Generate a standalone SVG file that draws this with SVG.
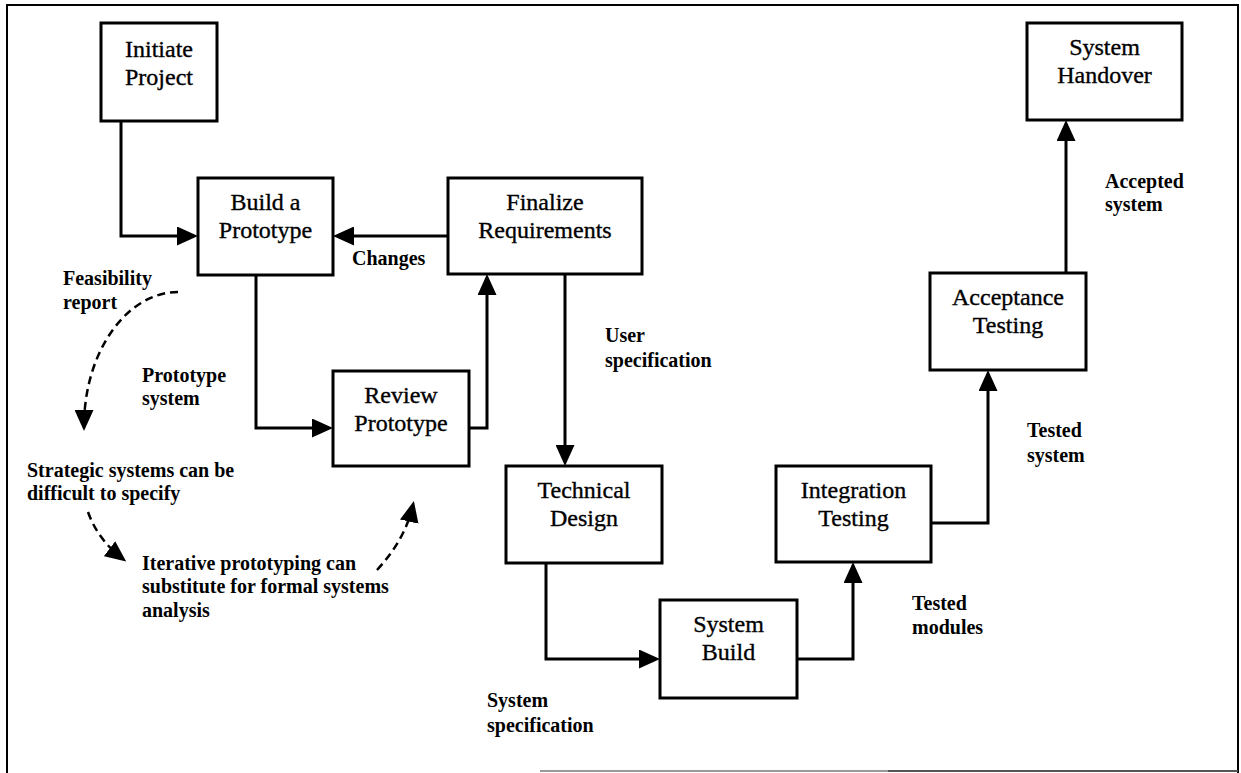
<svg xmlns="http://www.w3.org/2000/svg" width="1241" height="773" viewBox="0 0 1241 773">
  <style>
    .box { fill: #fff; stroke: #000; stroke-width: 3; }
    .node { font-family: "Liberation Serif", "Times New Roman", serif; font-size: 24px; fill: #000; stroke: #000; stroke-width: 0.35; text-anchor: middle; }
    .lbl { font-family: "Liberation Serif", "Times New Roman", serif; font-size: 20px; font-weight: bold; fill: #000; }
    .flow { fill: none; stroke: #000; stroke-width: 3; marker-end: url(#arrow); }
    .dash { fill: none; stroke: #000; stroke-width: 2.5; stroke-dasharray: 8 5; marker-end: url(#arrow); }
    .frame { fill: none; stroke: #000; stroke-width: 2; }
  </style>
  <defs>
    <marker id="arrow" markerUnits="userSpaceOnUse" markerWidth="21" markerHeight="19" refX="17" refY="9.5" orient="auto">
      <path d="M0,0 L21,9.5 L0,19 Z" fill="#000"/>
    </marker>
  </defs>

  <rect width="1241" height="773" fill="#fff"/>

  <!-- outer frame -->
  <path class="frame" d="M7,773 V5 H1238 V773"/>
  <path d="M540,771 H888" stroke="#999" stroke-width="2"/>
  <path d="M888,771 H1238" stroke="#555" stroke-width="2"/>

  <!-- connectors -->
  <g id="connectors">
    <path class="flow" d="M121,121 V236 H194"/>
    <path class="flow" d="M448,236 H337"/>
    <path class="flow" d="M256,275 V428 H329"/>
    <path class="flow" d="M469,428 H487 V278"/>
    <path class="flow" d="M565,274 V462"/>
    <path class="flow" d="M546,563 V659 H656"/>
    <path class="flow" d="M797,659 H853 V566"/>
    <path class="flow" d="M931,523 H988 V374"/>
    <path class="flow" d="M1066,273 V124"/>
    <path class="dash" d="M178,292 C128,292 84,350 84,427"/>
    <path class="dash" d="M88,512 Q98,540 123,559"/>
    <path class="dash" d="M377,570 Q405,540 413,505"/>
  </g>

  <!-- nodes -->
  <g id="initiate-project">
    <rect class="box" x="101" y="23" width="116" height="98"/>
    <text class="node" x="159" y="57">Initiate</text>
    <text class="node" x="159" y="85">Project</text>
  </g>
  <g id="build-prototype">
    <rect class="box" x="198" y="178" width="135" height="97"/>
    <text class="node" x="265.5" y="210">Build a</text>
    <text class="node" x="265.5" y="238">Prototype</text>
  </g>
  <g id="finalize-requirements">
    <rect class="box" x="448" y="178" width="194" height="96"/>
    <text class="node" x="545" y="210">Finalize</text>
    <text class="node" x="545" y="238">Requirements</text>
  </g>
  <g id="review-prototype">
    <rect class="box" x="333" y="371" width="136" height="95"/>
    <text class="node" x="401" y="403">Review</text>
    <text class="node" x="401" y="431">Prototype</text>
  </g>
  <g id="technical-design">
    <rect class="box" x="506" y="466" width="156" height="97"/>
    <text class="node" x="584" y="498">Technical</text>
    <text class="node" x="584" y="526">Design</text>
  </g>
  <g id="system-build">
    <rect class="box" x="660" y="600" width="137" height="98"/>
    <text class="node" x="728.5" y="632">System</text>
    <text class="node" x="728.5" y="660">Build</text>
  </g>
  <g id="integration-testing">
    <rect class="box" x="776" y="466" width="155" height="96"/>
    <text class="node" x="853.5" y="498">Integration</text>
    <text class="node" x="853.5" y="526">Testing</text>
  </g>
  <g id="acceptance-testing">
    <rect class="box" x="930" y="273" width="156" height="97"/>
    <text class="node" x="1008" y="305">Acceptance</text>
    <text class="node" x="1008" y="333">Testing</text>
  </g>
  <g id="system-handover">
    <rect class="box" x="1027" y="23" width="155" height="97"/>
    <text class="node" x="1104.5" y="55">System</text>
    <text class="node" x="1104.5" y="83">Handover</text>
  </g>

  <!-- labels -->
  <g id="labels">
    <text class="lbl" x="63" y="285">Feasibility</text>
    <text class="lbl" x="63" y="309">report</text>
    <text class="lbl" x="352" y="265">Changes</text>
    <text class="lbl" x="142" y="382">Prototype</text>
    <text class="lbl" x="142" y="405">system</text>
    <text class="lbl" x="27" y="477">Strategic systems can be</text>
    <text class="lbl" x="27" y="500">difficult to specify</text>
    <text class="lbl" x="142" y="570">Iterative prototyping can</text>
    <text class="lbl" x="142" y="593">substitute for formal systems</text>
    <text class="lbl" x="142" y="617">analysis</text>
    <text class="lbl" x="605" y="342">User</text>
    <text class="lbl" x="605" y="367">specification</text>
    <text class="lbl" x="487" y="707">System</text>
    <text class="lbl" x="487" y="732">specification</text>
    <text class="lbl" x="912" y="610">Tested</text>
    <text class="lbl" x="912" y="634">modules</text>
    <text class="lbl" x="1027" y="437">Tested</text>
    <text class="lbl" x="1027" y="462">system</text>
    <text class="lbl" x="1105" y="188">Accepted</text>
    <text class="lbl" x="1105" y="211">system</text>
  </g>
</svg>
